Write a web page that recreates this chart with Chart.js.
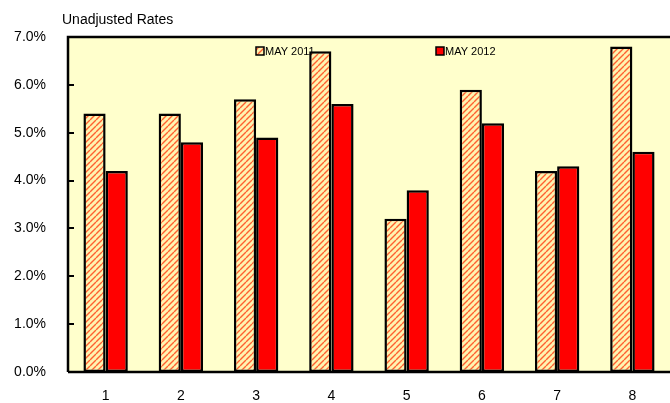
<!DOCTYPE html>
<html>
<head>
<meta charset="utf-8">
<script src="https://cdn.jsdelivr.net/npm/chart.js@4/dist/chart.umd.min.js"></script>
<style>
html,body{margin:0;padding:0;background:#fff;}
#wrap{width:670px;height:403px;position:relative;}
</style>
</head>
<body>
<div id="wrap"><canvas id="c" width="670" height="403"></canvas></div>
<script>
const categories = ['1','2','3','4','5','6','7','8'];
const may2011 = [5.4, 5.4, 5.7, 6.7, 3.2, 5.9, 4.2, 6.8];
const may2012 = [4.2, 4.8, 4.9, 5.6, 3.8, 5.2, 4.3, 4.6];
const seriesNames = ['MAY 2011', 'MAY 2012'];
const yTicks = [0, 1, 2, 3, 4, 5, 6, 7];
const chartTitle = 'Unadjusted Rates';

function makePattern() {
  const s = 6;
  const pc = document.createElement('canvas');
  pc.width = s; pc.height = s;
  const p = pc.getContext('2d');
  p.fillStyle = '#FFF3B0';
  p.fillRect(0, 0, s, s);
  p.strokeStyle = '#FF6030';
  p.lineWidth = 1.4;
  p.beginPath();
  for (let k = -1; k <= 1; k++) {
    p.moveTo(k * s, s);
    p.lineTo(k * s + s, 0);
  }
  p.stroke();
  const ctx = document.getElementById('c').getContext('2d');
  return ctx.createPattern(pc, 'repeat');
}
const pattern = makePattern();

const decor = {
  id: 'decor',
  beforeDraw(chart) {
    const {ctx, chartArea: a} = chart;
    ctx.save();
    ctx.fillStyle = '#FFFFCC';
    ctx.fillRect(a.left, a.top, a.right - a.left, a.bottom - a.top);
    ctx.fillStyle = '#000';
    ctx.font = '14px "Liberation Sans", Arial, sans-serif';
    ctx.textBaseline = 'alphabetic';
    ctx.textAlign = 'left';
    ctx.fillText(chartTitle, 62, 24);
    ctx.restore();
  },
  beforeDatasetsDraw(chart) {
    const {ctx} = chart;
    ctx.save();
    const pos = [256, 436];
    ctx.font = '11px "Liberation Sans", Arial, sans-serif';
    ctx.textBaseline = 'middle';
    chart.data.datasets.forEach((ds, i) => {
      const x = pos[i], y = 47;
      ctx.fillStyle = ds.backgroundColor;
      ctx.fillRect(x, y, 8, 8);
      ctx.strokeStyle = '#000';
      ctx.lineWidth = 1.5;
      ctx.strokeRect(x, y, 8, 8);
      ctx.fillStyle = '#000';
      ctx.fillText(ds.label, x + 9, y + 4.5);
    });
    ctx.restore();
  },
  afterDatasetsDraw(chart) {
    const {ctx, chartArea: a} = chart;
    const y = chart.scales.y;
    ctx.save();
    ctx.strokeStyle = '#000';
    ctx.lineWidth = 2.5;
    ctx.beginPath();
    ctx.moveTo(a.left, a.bottom);
    ctx.lineTo(a.left, a.top);
    ctx.lineTo(a.right, a.top);
    ctx.moveTo(a.left, a.bottom);
    ctx.lineTo(a.right, a.bottom);
    ctx.stroke();
    ctx.lineWidth = 2;
    ctx.beginPath();
    yTicks.forEach(v => {
      const py = Math.round(y.getPixelForValue(v));
      ctx.moveTo(a.left, py);
      ctx.lineTo(a.left + 6, py);
    });
    ctx.stroke();
    ctx.restore();
  }
};

new Chart(document.getElementById('c'), {
  type: 'bar',
  data: {
    labels: categories,
    datasets: [
      {label: seriesNames[0], data: may2011, backgroundColor: pattern, borderColor: '#000', borderWidth: 2.5, borderSkipped: false},
      {label: seriesNames[1], data: may2012, backgroundColor: '#FF0000', borderColor: '#000', borderWidth: 2.5, borderSkipped: false}
    ]
  },
  options: {
    responsive: false,
    animation: false,
    devicePixelRatio: 1,
    layout: {padding: {top: 37, right: 0, left: 0, bottom: 0}},
    plugins: {legend: {display: false}, tooltip: {enabled: false}, title: {display: false}},
    datasets: {bar: {categoryPercentage: 0.59, barPercentage: 1.0}},
    scales: {
      x: {
        grid: {display: false},
        border: {display: false},
        ticks: {color: '#000', font: {family: '"Liberation Sans", Arial, sans-serif', size: 14}, padding: 8, maxRotation: 0},
        afterFit(s) { s.height = 31; }
      },
      y: {
        min: 0, max: 7,
        afterBuildTicks(s) { s.ticks = yTicks.map(v => ({value: v})); },
        grid: {display: false},
        border: {display: false},
        ticks: {color: '#000', font: {family: '"Liberation Sans", Arial, sans-serif', size: 14}, padding: 14,
          callback: v => Number(v).toFixed(1) + '%'},
        afterFit(s) { s.width = 68; }
      }
    }
  },
  plugins: [decor]
});
</script>
</body>
</html>
